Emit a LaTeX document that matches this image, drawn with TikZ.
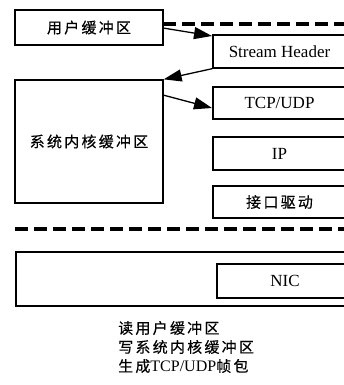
\documentclass[tikz,border=0pt]{standalone}
\usepackage{fontspec}
\setmainfont{Liberation Serif}
\newfontfamily\cjk[LetterSpace=15,FakeBold=0.4]{Noto Sans CJK SC}
\usetikzlibrary{arrows.meta}
\tikzset{
  bx/.style={draw, line width=1.3pt, inner sep=0pt, font=\fontsize{17}{19}\selectfont},
  cj/.style={font=\fontsize{15}{19}\selectfont\cjk},
  arr/.style={line width=1.3pt, -{Triangle[length=18pt,width=12pt]}},
  dsh/.style={line width=3.2pt, dash pattern=on 13pt off 6pt},
}
\begin{document}
\begin{tikzpicture}[x=1pt,y=-1pt]
\useasboundingbox (0,0) rectangle (344,385);
\clip (0,0) rectangle (344,385);
\node[bx, cj, minimum width=148pt, minimum height=35pt] (user) at (89,27.5) {用户缓冲区};
\node[bx, minimum width=133pt, minimum height=33pt] (sh) at (279.5,51.5) {Stream Header};
\node[bx, cj, minimum width=148pt, minimum height=123pt] (kern) at (89,141.5) {系统内核缓冲区};
\node[bx, minimum width=133pt, minimum height=32pt] (tcp) at (279.5,103) {TCP/UDP};
\node[bx, minimum width=133pt, minimum height=33pt] (ip) at (279.5,153.5) {IP};
\node[bx, cj, minimum width=133pt, minimum height=32pt] (drv) at (279.5,202) {接口驱动};
\node[bx, minimum width=334pt, minimum height=54pt] (big) at (183,279) {};
\node[bx, minimum width=136pt, minimum height=34pt] (nic) at (285,281) {NIC};
\node[cj, anchor=west, inner sep=0pt] (t1) at (118,328) {读用户缓冲区};
\node[cj, anchor=west, inner sep=0pt] (t2) at (118,347) {写系统内核缓冲区};
\node[anchor=west, inner sep=0pt, font=\fontsize{15}{19}\selectfont] (t3) at (118,366) {{\cjk 生成}{\fontsize{16}{19}\selectfont TCP/UDP}{\cjk 帧包}};
\coordinate (d1s) at (163,24);
\coordinate (d1e) at (350,24);
\coordinate (d2s) at (15,229);
\coordinate (d2e) at (350,229);
\draw[dsh] (d1s) -- (d1e);
\draw[dsh] (d2s) -- (d2e);
\coordinate (a1s) at (163,28);
\coordinate (a1e) at (212,36);
\draw[arr] (a1s) -- (a1e);
\draw[arr] (sh.south west) -- (kern.north east);
\coordinate (a3s) at (163,95);
\coordinate (a3e) at (212,108);
\draw[arr] (a3s) -- (a3e);
\end{tikzpicture}
\end{document}
